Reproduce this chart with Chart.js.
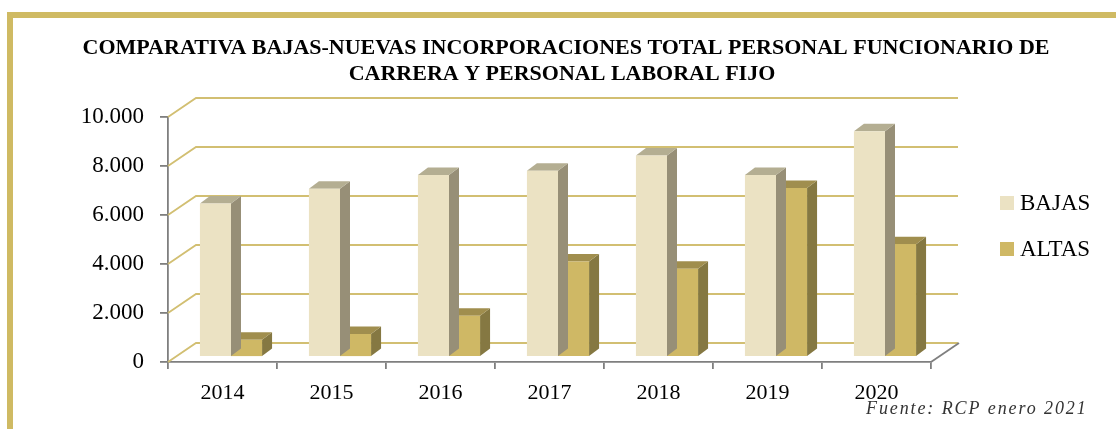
<!DOCTYPE html>
<html>
<head>
<meta charset="utf-8">
<script src="https://cdn.jsdelivr.net/npm/chart.js@4"></script>
<style>
  html, body { margin: 0; padding: 0; background: #ffffff; }
  #wrap { position: relative; width: 1116px; height: 429px; overflow: hidden; }
  #frame { position: absolute; left: 7px; top: 12px; width: 1200px; height: 500px;
           border-top: 6px solid #CFBA63; border-left: 6px solid #CFBA63; box-sizing: border-box; }
  canvas { position: absolute; left: 0; top: 0; }
</style>
</head>
<body>
<div id="wrap">
  <div id="frame"></div>
  <canvas id="c" width="1116" height="429"></canvas>
</div>
<script>
const titleLines = ['COMPARATIVA BAJAS-NUEVAS INCORPORACIONES TOTAL PERSONAL FUNCIONARIO DE', 'CARRERA Y PERSONAL LABORAL FIJO'];
const sourceNote = 'Fuente: RCP enero 2021';
const categories = ['2014', '2015', '2016', '2017', '2018', '2019', '2020'];
const bajas = [6270, 6870, 7430, 7600, 8220, 7430, 9210];
const altas = [700, 940, 1680, 3900, 3600, 6900, 4600];
const seriesNames = ['BAJAS', 'ALTAS'];
const yTickValues = [0, 2000, 4000, 6000, 8000, 10000];
const yTickLabels = ['0', '2.000', '4.000', '6.000', '8.000', '10.000'];

const faceColors = [
  { front: '#EBE2C3', side: '#978F77', top: '#B4AE92' },
  { front: '#CFB865', side: '#857842', top: '#A08E4E' }
];
const DX = 10, DY = -7.5;       // bar depth
const SHIFT_X = 8.5, SHIFT_Y = -5; // bar plane offset
const WALL_DX = 28, WALL_DY = -19; // back wall offset
const GRID_RIGHT = 958;

const threeD = {
  id: 'threeD',
  beforeDatasetsDraw(chart) {
    const ctx = chart.ctx;
    const y = chart.scales.y;
    const area = chart.chartArea;
    ctx.save();
    ctx.strokeStyle = '#D2BF72';
    ctx.lineWidth = 1.8;
    yTickValues.forEach(v => {
      const py = y.getPixelForValue(v);
      ctx.beginPath();
      ctx.moveTo(area.left, py);
      ctx.lineTo(area.left + WALL_DX, py + WALL_DY);
      ctx.lineTo(GRID_RIGHT, py + WALL_DY);
      ctx.stroke();
    });
    const p0 = y.getPixelForValue(0);
    ctx.strokeStyle = '#7F7F7F';
    ctx.lineWidth = 1.8;
    ctx.beginPath();
    ctx.moveTo(area.right, p0);
    ctx.lineTo(area.right + WALL_DX, p0 + WALL_DY);
    ctx.stroke();
    ctx.restore();
  },
  beforeDatasetDraw(chart, args) {
    const ctx = chart.ctx;
    const meta = args.meta;
    const col = faceColors[args.index];
    ctx.save();
    ctx.translate(SHIFT_X, SHIFT_Y);
    meta.data.forEach(el => {
      const p = el.getProps(['x', 'y', 'base', 'width'], true);
      const l = p.x - p.width / 2, r = p.x + p.width / 2, t = p.y, b = p.base;
      ctx.fillStyle = col.side;
      ctx.beginPath();
      ctx.moveTo(r, t); ctx.lineTo(r + DX, t + DY); ctx.lineTo(r + DX, b + DY); ctx.lineTo(r, b);
      ctx.closePath(); ctx.fill();
      ctx.fillStyle = col.top;
      ctx.beginPath();
      ctx.moveTo(l, t); ctx.lineTo(l + DX, t + DY); ctx.lineTo(r + DX, t + DY); ctx.lineTo(r, t);
      ctx.closePath(); ctx.fill();
    });
  },
  afterDatasetDraw(chart) {
    chart.ctx.restore();
  },
  afterDraw(chart) {
    const ctx = chart.ctx;
    ctx.save();
    ctx.fillStyle = '#000000';
    ctx.textAlign = 'center';
    ctx.textBaseline = 'alphabetic';
    ctx.font = 'bold 22px "Liberation Serif"';
    ctx.fillText(titleLines[0], 566, 54);
    ctx.fillText(titleLines[1], 562, 80);
    ctx.textAlign = 'left';
    ctx.font = '23px "Liberation Serif"';
    const legY = [210, 256];
    seriesNames.forEach((n, i) => {
      ctx.fillStyle = faceColors[i].front;
      ctx.fillRect(1000, legY[i] - 14, 14, 14);
      ctx.fillStyle = '#000000';
      ctx.fillText(n, 1020, legY[i]);
    });
    ctx.font = 'italic 18px "Liberation Serif"';
    ctx.fillStyle = '#333333';
    ctx.letterSpacing = '1.9px';
    ctx.textAlign = 'left';
    ctx.fillText(sourceNote, 866, 414);
    ctx.restore();
  }
};

new Chart(document.getElementById('c'), {
  type: 'bar',
  data: {
    labels: categories,
    datasets: [
      { label: seriesNames[0], data: bajas, backgroundColor: faceColors[0].front, clip: false,
        categoryPercentage: 0.57, barPercentage: 1.0 },
      { label: seriesNames[1], data: altas, backgroundColor: faceColors[1].front, clip: false,
        categoryPercentage: 0.57, barPercentage: 1.0 }
    ]
  },
  options: {
    responsive: false,
    animation: false,
    events: [],
    layout: { padding: { top: 117, right: 185, bottom: 0, left: 0 } },
    plugins: { legend: { display: false }, title: { display: false }, tooltip: { enabled: false } },
    scales: {
      x: {
        afterFit(s) { s.height = 67; },
        grid: { display: true, drawOnChartArea: false, drawTicks: true, tickLength: 7, color: '#7F7F7F', lineWidth: 1.8, offset: true },
        border: { display: true, color: '#7F7F7F', width: 1.8 },
        ticks: { color: '#000000', font: { family: 'Liberation Serif', size: 22 }, padding: 11 }
      },
      y: {
        min: 0, max: 10000,
        afterFit(s) { s.width = 168; },
        afterBuildTicks(s) { s.ticks = yTickValues.map(v => ({ value: v })); },
        grid: { display: true, drawOnChartArea: false, drawTicks: true, tickLength: 8, color: '#7F7F7F', lineWidth: 1.8 },
        border: { display: true, color: '#7F7F7F', width: 1.8 },
        ticks: { color: '#000000', font: { family: 'Liberation Serif', size: 23 }, padding: 16,
                 callback: (v) => { const i = yTickValues.indexOf(v); return i >= 0 ? yTickLabels[i] : ''; } }
      }
    }
  },
  plugins: [threeD]
});
</script>
</body>
</html>
